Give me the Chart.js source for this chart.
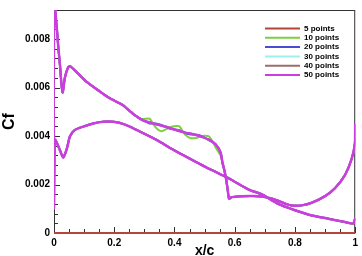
<!DOCTYPE html>
<html>
<head>
<meta charset="utf-8">
<script src="https://cdn.jsdelivr.net/npm/chart.js@4"></script>
<style>
  html, body { margin: 0; padding: 0; background: #fff; }
  #wrap { width: 362px; height: 256px; }
</style>
</head>
<body>
<div id="wrap"><canvas id="myChart" width="362" height="256"></canvas></div>
<script>
const ctx = document.getElementById("myChart").getContext("2d");

// x/c stations
const xUpper = [0, 0.009, 0.014, 0.02, 0.025, 0.029, 0.036, 0.047, 0.053, 0.075, 0.108, 0.152, 0.185, 0.217, 0.229,
  0.262, 0.28, 0.295, 0.317, 0.336, 0.356, 0.385, 0.405, 0.416, 0.436, 0.455, 0.475, 0.49, 0.515, 0.537, 0.553,
  0.559, 0.565, 0.571, 0.576, 0.581, 0.59, 0.62, 0.66, 0.69, 0.72, 0.746, 0.77, 0.79, 0.823, 0.856, 0.9, 0.933,
  0.966, 0.988, 0.999, 1.0];
const xLower = [0, 0.003, 0.014, 0.025, 0.031, 0.042, 0.053, 0.069, 0.097, 0.13, 0.163, 0.196, 0.22, 0.25, 0.284,
  0.339, 0.394, 0.449, 0.504, 0.57, 0.581, 0.647, 0.69, 0.746, 0.8, 0.856, 0.911, 0.966, 0.993, 1.0];

// Cf upper surface
const cfUpper50 = [0.0096, 0.0085, 0.0077, 0.0069, 0.0061, 0.0058, 0.0064, 0.00684, 0.00688, 0.00664, 0.00624, 0.00584,
  0.00556, 0.00536, 0.00527, 0.00492, 0.00476, 0.00465, 0.00456, 0.0045, 0.00443, 0.00433, 0.00425, 0.00421, 0.00414,
  0.0041, 0.00403, 0.00397, 0.00385, 0.00365, 0.00332, 0.00292, 0.00262, 0.00225, 0.00185, 0.00142, 0.00148, 0.00152,
  0.00153, 0.00151, 0.00143, 0.00132, 0.0012, 0.00113, 0.00114, 0.00125, 0.00152, 0.00185, 0.00239, 0.00305, 0.0037, 0.0045];
const cfUpper10 = [0.0096, 0.0085, 0.0077, 0.0069, 0.0061, 0.0058, 0.0064, 0.00684, 0.00688, 0.00664, 0.00624, 0.00584,
  0.00556, 0.00536, 0.00527, 0.00492, 0.00476, 0.0047, 0.00472, 0.00438, 0.0042, 0.00436, 0.00441, 0.0044, 0.00405,
  0.00391, 0.00393, 0.004, 0.00398, 0.00352, 0.0032, 0.00292, 0.00262, 0.00225, 0.00185, 0.00142, 0.00148, 0.00152,
  0.00153, 0.00151, 0.00143, 0.00132, 0.0012, 0.00113, 0.00114, 0.00125, 0.00152, 0.00185, 0.00239, 0.00305, 0.0037, 0.0045];
const cfUpper20 = [0.0096, 0.0085, 0.0077, 0.0069, 0.0061, 0.0058, 0.0064, 0.00684, 0.00688, 0.00664, 0.00624, 0.00584,
  0.00556, 0.00536, 0.00527, 0.00492, 0.00476, 0.00466, 0.00452, 0.00452, 0.00446, 0.0043, 0.00426, 0.00424, 0.00412,
  0.00406, 0.00405, 0.004, 0.00382, 0.00365, 0.00332, 0.00292, 0.00262, 0.00225, 0.00185, 0.00142, 0.00148, 0.00152,
  0.00153, 0.00151, 0.00143, 0.00132, 0.0012, 0.00113, 0.00114, 0.00125, 0.00152, 0.00185, 0.00239, 0.00305, 0.0037, 0.0045];

// Cf lower surface
const cfLower = [0.00104, 0.00385, 0.00359, 0.00325, 0.00312, 0.00345, 0.00399, 0.00425, 0.00439, 0.00452, 0.00459,
  0.00459, 0.00454, 0.0044, 0.00419, 0.00385, 0.00345, 0.00308, 0.00272, 0.00232, 0.00225, 0.00179, 0.00159, 0.00119,
  0.00094, 0.00072, 0.00059, 0.00045, 0.00039, 0.0006];

// 5 points run sits on zero
const x5 = [0, 1];
const cf5 = [0, 0];

const seriesLabels = ["5 points", "10 points", "20 points", "30 points", "40 points", "50 points"];
const seriesColors = ["#b5453b", "#7ecf3f", "#4b4bd6", "#9ef0f0", "#9a6d6d", "#cc3de0"];

const yTicks = [0, 0.002, 0.004, 0.006, 0.008];
const xTicks = [0, 0.2, 0.4, 0.6, 0.8, 1];

function loop(upper) {
  const pts = [];
  for (let i = xUpper.length - 1; i >= 0; i--) pts.push({x: xUpper[i], y: upper[i]});
  for (let i = 0; i < xLower.length; i++) pts.push({x: xLower[i], y: cfLower[i]});
  return pts;
}

const data = {
  datasets: [
    {label: seriesLabels[0], data: x5.map((x, i) => ({x, y: cf5[i]})), clip: false},
    {label: seriesLabels[1], data: loop(cfUpper10)},
    {label: seriesLabels[2], data: loop(cfUpper20)},
    {label: seriesLabels[3], data: loop(cfUpper50)},
    {label: seriesLabels[4], data: loop(cfUpper50)},
    {label: seriesLabels[5], data: loop(cfUpper50)},
  ].map((d, i) => Object.assign({
    borderColor: seriesColors[i],
    backgroundColor: seriesColors[i],
    showLine: true,
    pointRadius: 0,
    borderWidth: i == 5 ? 2.5 : 2,
    tension: 0.2,
    order: 5 - i,
  }, d)),
};

// frame, inward ticks and legend like tecplot
const decor = {
  id: "decor",
  beforeDatasetsDraw(chart) {
    const c = chart.ctx, a = chart.chartArea;
    const xs = chart.scales.x, ys = chart.scales.y;
    c.save();
    c.strokeStyle = "#333";
    c.lineWidth = 1;
    c.strokeRect(a.left + 0.5, a.top + 0.5, a.right - a.left - 1, a.bottom - a.top);
    c.beginPath();
    for (let v = 0; v <= 1.0001; v += 0.05) {
      const px = Math.round(xs.getPixelForValue(v)) + 0.5;
      const len = Math.abs(v / 0.2 - Math.round(v / 0.2)) < 1e-6 ? 6 : 4;
      c.moveTo(px, a.bottom);
      c.lineTo(px, a.bottom - len);
    }
    for (let v = 0; v <= 0.0092; v += 0.0004) {
      const py = Math.round(ys.getPixelForValue(v)) + 0.5;
      const len = Math.abs(v / 0.002 - Math.round(v / 0.002)) < 1e-6 ? 6 : 4;
      c.moveTo(a.left, py);
      c.lineTo(a.left + len, py);
    }
    c.stroke();
    c.restore();
  },
  afterDraw(chart) {
    const c = chart.ctx;
    c.save();
    c.font = "bold 8px 'Liberation Sans', Arial";
    c.textBaseline = "middle";
    chart.data.datasets.forEach((d, i) => {
      const y = 28.5 + i * 9.3;
      c.strokeStyle = d.borderColor;
      c.lineWidth = 2;
      c.beginPath();
      c.moveTo(265, y);
      c.lineTo(300, y);
      c.stroke();
      c.fillStyle = "#000";
      c.fillText(d.label, 304, y);
    });
    c.restore();
  },
};

const config = {
  type: "scatter",
  data: data,
  options: {
    responsive: false,
    animation: false,
    layout: {padding: {top: 3, right: 5, left: 0, bottom: 0}},
    plugins: {legend: {display: false}, tooltip: {enabled: false}},
    scales: {
      x: {
        type: "linear", min: 0, max: 1,
        grid: {display: false, drawTicks: false},
        border: {display: false},
        afterFit: (s) => { s.height = 23; },
        afterBuildTicks: (s) => { s.ticks = xTicks.map(v => ({value: v})); },
        ticks: {
          padding: 4, color: "#000", maxRotation: 0,
          font: {family: "'Liberation Sans', Arial", size: 10, weight: "bold"},
          callback: (v) => String(v),
        },
        title: {
          display: true, text: "x/c", color: "#000", padding: {top: 0, bottom: -4},
          font: {family: "'Liberation Sans', Arial", size: 14, weight: "bold"},
        },
      },
      y: {
        type: "linear", min: 0, max: 0.0092,
        grid: {display: false, drawTicks: false},
        border: {display: false},
        afterFit: (s) => { s.width = 54; },
        afterBuildTicks: (s) => { s.ticks = yTicks.map(v => ({value: v})); },
        ticks: {
          padding: 4, color: "#000",
          font: {family: "'Liberation Sans', Arial", size: 10, weight: "bold"},
          callback: (v) => v == 0 ? "0" : v.toFixed(3),
        },
        title: {
          display: true, text: "Cf", color: "#000", padding: {top: 0, bottom: 0},
          font: {family: "'Liberation Sans', Arial", size: 16, weight: "bold"},
        },
      },
    },
  },
  plugins: [decor],
};

const myChart = new Chart(ctx, config);
</script>
</body>
</html>
